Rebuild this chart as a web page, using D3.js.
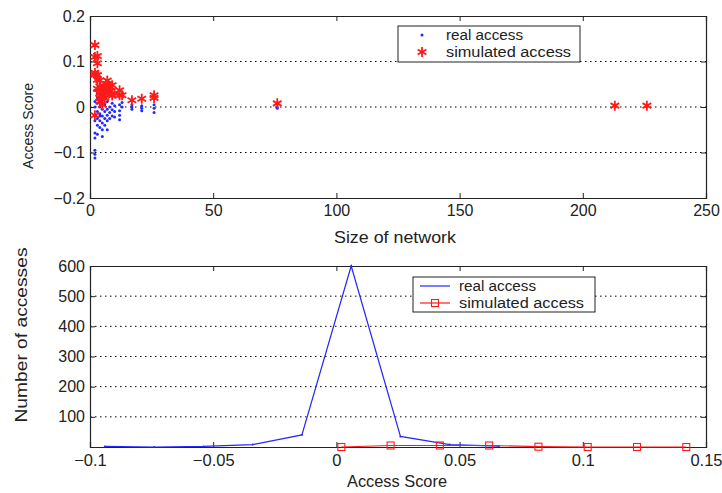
<!DOCTYPE html>
<html>
<head>
<meta charset="utf-8">
<script src="https://cdn.jsdelivr.net/npm/d3@7"></script>
<style>
  html, body { margin: 0; padding: 0; background: #fff; }
  svg { display: block; font-family: "Liberation Sans", Arial, sans-serif; }
</style>
</head>
<body>
<svg id="chart" width="722" height="493"></svg>
<script>
// ---- Top panel: access score per network size ----
const realSize = [
  2,2,2,2,2,2,2,2,2,2,
  3,3,3,3,3,3,3,
  4,4,4,4,4,4,4,
  5,5,5,5,5,5,
  6,6,6,6,
  7,7,7,7,7,
  8,8,8,
  9,9,9,
  10,10,10,
  12,12,12,12,
  13,13,
  17,17,17,
  21,21,21,
  26,26,26,
  76,76,
  213,226
];
const realScore = [
  0.037,0.012,0.000,-0.030,-0.057,-0.068,-0.095,-0.104,-0.112,-0.018,
  0.030,0.020,0.008,-0.010,-0.025,-0.040,-0.060,
  0.025,0.015,0.000,-0.015,-0.020,-0.030,-0.045,
  0.010,-0.005,-0.020,-0.035,-0.050,-0.065,
  0.005,-0.010,-0.025,-0.040,
  0.012,-0.005,-0.018,-0.030,-0.050,
  0.000,-0.012,-0.025,
  0.008,-0.006,-0.020,
  0.003,-0.010,-0.022,
  0.005,-0.008,-0.018,-0.028,
  0.010,0.000,
  0.005,0.000,-0.005,
  0.003,-0.003,-0.008,
  0.005,-0.003,-0.012,
  0.000,-0.003,
  0.002,0.002
];
const simSize = [
  2,2,2,2,2,
  3,3,3,3,3,
  4,4,4,4,4,
  5,5,5,5,
  6,6,6,
  7,7,7,
  8,8,
  9,9,
  10,
  12,12,
  13,
  17,
  21,
  26,26,
  76,
  213,226
];
const simScore = [
  0.136,0.110,0.075,0.071,-0.018,
  0.112,0.096,0.070,0.060,0.040,
  0.059,0.045,0.030,0.020,0.012,
  0.041,0.035,0.026,0.005,
  0.044,0.030,0.020,
  0.058,0.050,0.035,
  0.045,0.034,
  0.048,0.025,
  0.030,
  0.037,0.026,
  0.026,
  0.015,
  0.018,
  0.026,0.020,
  0.008,
  0.003,0.003
];
const topXTicks = [0, 50, 100, 150, 200, 250];
const topYTicks = [-0.2, -0.1, 0, 0.1, 0.2];
const topYTickLabels = ["\u22120.2", "\u22120.1", "0", "0.1", "0.2"];
const topGrid = [-0.1, 0, 0.1];

// ---- Bottom panel: distribution of access scores ----
const realBins = [-0.094, -0.074, -0.054, -0.034, -0.014, 0.006, 0.026, 0.046, 0.066];
const realCounts = [2, 0, 2, 8, 40, 600, 35, 8, 3];
const simBins = [0.002, 0.022, 0.042, 0.062, 0.082, 0.102, 0.122, 0.142];
const simCounts = [0, 5, 5, 5, 1, 0, 0, 0];
const botXTicks = [-0.1, -0.05, 0, 0.05, 0.1, 0.15];
const botXTickLabels = ["\u22120.1", "\u22120.05", "0", "0.05", "0.1", "0.15"];
const botYTicks = [100, 200, 300, 400, 500, 600];
const botGrid = [100, 200, 300, 400, 500];

const svg = d3.select("#chart");
const AX = "#222";
const FONT = "'Liberation Sans', Arial, sans-serif";

function frame(g, x, y, xt, xtl, yt, ytl, grid, fsx, fsy) {
  const [x0, x1] = x.range();
  const [y0, y1] = y.range();
  // dotted grid
  g.append("g").selectAll("line").data(grid).join("line")
    .attr("x1", x0).attr("x2", x1)
    .attr("y1", d => y(d)).attr("y2", d => y(d))
    .attr("stroke", "#000").attr("stroke-width", 1)
    .attr("stroke-dasharray", "1.5,3.5");
  // box axes with inward ticks
  const xb = d3.axisBottom(x).tickValues(xt).tickSize(-5).tickPadding(7)
    .tickFormat((d, i) => xtl[i]);
  const gx = g.append("g").attr("transform", `translate(0,${y0})`).call(xb);
  const xtop = d3.axisTop(x).tickValues(xt).tickSize(-5).tickFormat("");
  const gxt = g.append("g").attr("transform", `translate(0,${y1})`).call(xtop);
  const yl = d3.axisLeft(y).tickValues(yt).tickSize(-5).tickPadding(5)
    .tickFormat((d, i) => ytl[i]);
  const gy = g.append("g").attr("transform", `translate(${x0},0)`).call(yl);
  const yr = d3.axisRight(y).tickValues(yt).tickSize(-5).tickFormat("");
  const gyr = g.append("g").attr("transform", `translate(${x1},0)`).call(yr);
  [gx, gxt, gy, gyr].forEach(a => {
    a.select(".domain").attr("stroke", AX).attr("stroke-width", 1.2);
    a.selectAll(".tick line").attr("stroke", AX);
    a.selectAll("text").attr("fill", "#222").style("font-family", FONT);
  });
  gx.selectAll("text").style("font-size", fsx + "px");
  gy.selectAll("text").style("font-size", fsy + "px");
  return { gx, gy };
}

function label(g, text, x, y, fs, len, rot) {
  return g.append("text")
    .attr("transform", `translate(${x},${y})` + (rot ? " rotate(-90)" : ""))
    .attr("text-anchor", "middle").style("font-size", fs + "px")
    .attr("textLength", len).attr("lengthAdjust", "spacingAndGlyphs")
    .attr("fill", "#222").text(text);
}

// ===== Top panel =====
const xTop = d3.scaleLinear().domain([0, 250]).range([90, 706]);
const yTop = d3.scaleLinear().domain([-0.2, 0.2]).range([198, 16]);
const gTop = svg.append("g");
frame(gTop, xTop, yTop, topXTicks, topXTicks.map(String), topYTicks, topYTickLabels, topGrid, 16, 16);

// real access: small blue dots
gTop.append("g").selectAll("circle").data(realSize.map((s, i) => [s, realScore[i]]))
  .join("circle")
  .attr("cx", d => xTop(d[0])).attr("cy", d => yTop(d[1]))
  .attr("r", 1.5).attr("fill", "#1f2bff");

// simulated access: red asterisks
const star = d3.symbol().type(d3.symbolAsterisk).size(70);
gTop.append("g").selectAll("path").data(simSize.map((s, i) => [s, simScore[i]]))
  .join("path")
  .attr("transform", d => `translate(${xTop(d[0])},${yTop(d[1])})`)
  .attr("d", star).attr("fill", "none").attr("stroke", "#ff1a1a").attr("stroke-width", 1.8);

label(gTop, "Size of network", 395, 243, 17, 122);
label(gTop, "Access Score", 33, 126, 14.5, 86, true);

// legend (top)
const lt = gTop.append("g");
lt.append("rect").attr("x", 398).attr("y", 26).attr("width", 182).attr("height", 36)
  .attr("fill", "#fff").attr("stroke", AX).attr("stroke-width", 1);
lt.append("circle").attr("cx", 422).attr("cy", 35).attr("r", 1.5).attr("fill", "#1f2bff");
lt.append("path").attr("transform", "translate(422,52)").attr("d", star)
  .attr("fill", "none").attr("stroke", "#ff1a1a").attr("stroke-width", 1.8);
lt.append("text").attr("x", 446).attr("y", 40).style("font-size", "15.5px")
  .attr("textLength", 77).attr("lengthAdjust", "spacingAndGlyphs").attr("fill", "#222").text("real access");
lt.append("text").attr("x", 446).attr("y", 57).style("font-size", "15.5px")
  .attr("textLength", 125).attr("lengthAdjust", "spacingAndGlyphs").attr("fill", "#222").text("simulated access");

// ===== Bottom panel =====
const xBot = d3.scaleLinear().domain([-0.1, 0.15]).range([90, 706]);
const yBot = d3.scaleLinear().domain([0, 600]).range([447, 266]);
const gBot = svg.append("g");
frame(gBot, xBot, yBot, botXTicks, botXTickLabels, botYTicks, botYTicks.map(String), botGrid, 16.5, 16);

const line = (xs, ys) => d3.line().x((d, i) => xBot(xs[i])).y((d, i) => yBot(ys[i]))(xs);

gBot.append("path").attr("d", line(realBins, realCounts))
  .attr("fill", "none").attr("stroke", "#2626ff").attr("stroke-width", 1.2);
gBot.append("g").selectAll("circle").data(realBins).join("circle")
  .attr("cx", d => xBot(d)).attr("cy", (d, i) => yBot(realCounts[i]))
  .attr("r", 1).attr("fill", "#2626ff");

gBot.append("path").attr("d", line(simBins, simCounts))
  .attr("fill", "none").attr("stroke", "#ff1a1a").attr("stroke-width", 1.2);
gBot.append("g").selectAll("rect").data(simBins).join("rect")
  .attr("x", d => xBot(d) - 3.5).attr("y", (d, i) => yBot(simCounts[i]) - 3.5)
  .attr("width", 7).attr("height", 7)
  .attr("fill", "none").attr("stroke", "#ff1a1a").attr("stroke-width", 1.1);

label(gBot, "Access Score", 397, 487, 16.5, 100);
label(gBot, "Number of accesses", 27, 335, 17, 175, true);

// legend (bottom)
const lb = gBot.append("g");
lb.append("rect").attr("x", 413).attr("y", 277).attr("width", 182).attr("height", 35)
  .attr("fill", "#fff").attr("stroke", AX).attr("stroke-width", 1);
lb.append("line").attr("x1", 420).attr("x2", 450).attr("y1", 286).attr("y2", 286)
  .attr("stroke", "#2626ff").attr("stroke-width", 1.2);
lb.append("line").attr("x1", 420).attr("x2", 450).attr("y1", 303).attr("y2", 303)
  .attr("stroke", "#ff1a1a").attr("stroke-width", 1.2);
lb.append("rect").attr("x", 431.5).attr("y", 299.5).attr("width", 7).attr("height", 7)
  .attr("fill", "none").attr("stroke", "#ff1a1a").attr("stroke-width", 1.1);
lb.append("text").attr("x", 459).attr("y", 291).style("font-size", "15.5px")
  .attr("textLength", 77).attr("lengthAdjust", "spacingAndGlyphs").attr("fill", "#222").text("real access");
lb.append("text").attr("x", 459).attr("y", 308).style("font-size", "15.5px")
  .attr("textLength", 125).attr("lengthAdjust", "spacingAndGlyphs").attr("fill", "#222").text("simulated access");
</script>
</body>
</html>
